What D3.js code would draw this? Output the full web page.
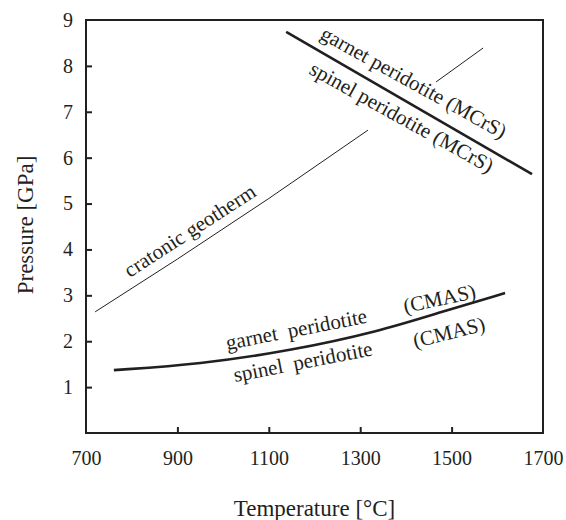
<!DOCTYPE html>
<html>
<head>
<meta charset="utf-8">
<script src="https://cdn.jsdelivr.net/npm/d3@7"></script>
<style>
  body { margin: 0; background: #fff; }
  text { font-family: "Liberation Serif", "Times New Roman", serif; fill: #231f20; }
</style>
</head>
<body>
<svg width="566" height="520"></svg>
<script>
// tick values
var tempTicks = [700, 900, 1100, 1300, 1500, 1700];
var pressureTicks = [1, 2, 3, 4, 5, 6, 7, 8, 9];

// cratonic geotherm, drawn in two pieces (gap for the label)
var geothermLower = [[720, 2.64], [900, 3.79], [1100, 5.11], [1317, 6.60]];
var geothermUpper = [[1466, 7.65], [1569, 8.39]];

// garnet / spinel transition, MCrS system
var mcrsBoundary = [[1138, 8.74], [1676, 5.64]];

// garnet / spinel transition, CMAS system
var cmasBoundary = [[761, 1.37], [949, 1.50], [1146, 1.79], [1343, 2.22], [1468, 2.61], [1617, 3.05]];

// annotation texts
var labelTexts = ["cratonic geotherm", "garnet peridotite (MCrS)", "spinel peridotite (MCrS)",
  "garnet\u00a0 peridotite", "(CMAS)", "spinel\u00a0 peridotite", "(CMAS)"];

var svg = d3.select("svg"),
  margin = {top: 20, right: 23, bottom: 87, left: 86},
  width = +svg.attr("width") - margin.left - margin.right,
  height = +svg.attr("height") - margin.top - margin.bottom;

var x = d3.scaleLinear().domain([700, 1700]).range([0, width]),
  y = d3.scaleLinear().domain([0, 9]).range([height, 0]);

var g = svg.append("g")
  .attr("transform", "translate(" + margin.left + "," + margin.top + ")");

// frame
g.append("rect")
  .attr("width", width).attr("height", height)
  .attr("fill", "none").attr("stroke", "#231f20").attr("stroke-width", 2);

// x axis (ticks inward)
var xa = g.append("g")
  .attr("transform", "translate(0," + height + ")")
  .call(d3.axisBottom(x).tickValues(tempTicks).tickSize(-6).tickPadding(13).tickFormat(d3.format("d")));
xa.select(".domain").remove();
xa.selectAll(".tick line").attr("stroke", "#231f20").attr("stroke-width", 2)
  .filter(function(d) { return d === 700 || d === 1700; }).remove();
xa.selectAll("text").attr("font-size", 20).attr("font-family", null).attr("fill", "#231f20").attr("dy", "0.95em");

// y axis (ticks inward)
var ya = g.append("g")
  .call(d3.axisLeft(y).tickValues(pressureTicks).tickSize(-6).tickPadding(13));
ya.select(".domain").remove();
ya.selectAll(".tick line").attr("stroke", "#231f20").attr("stroke-width", 2)
  .filter(function(d) { return d === 9; }).remove();
ya.selectAll("text").attr("font-size", 20).attr("font-family", null).attr("fill", "#231f20");
ya.selectAll(".tick text").attr("x", -13);

// axis titles
svg.append("text")
  .attr("x", margin.left + width / 2).attr("y", 516)
  .attr("text-anchor", "middle").attr("font-size", 23)
  .text("Temperature [\u00b0C]");
svg.append("text")
  .attr("transform", "translate(33,225) rotate(-90)")
  .attr("text-anchor", "middle").attr("font-size", 23)
  .text("Pressure [GPa]");

var line = d3.line()
  .x(function(d) { return x(d[0]); })
  .y(function(d) { return y(d[1]); });

g.append("path").attr("d", line(geothermLower))
  .attr("fill", "none").attr("stroke", "#231f20").attr("stroke-width", 1);
g.append("path").attr("d", line(geothermUpper))
  .attr("fill", "none").attr("stroke", "#231f20").attr("stroke-width", 1);
g.append("path").attr("d", line(mcrsBoundary))
  .attr("fill", "none").attr("stroke", "#231f20").attr("stroke-width", 2.6);
g.append("path").attr("d", line.curve(d3.curveBasis)(cmasBoundary))
  .attr("fill", "none").attr("stroke", "#231f20").attr("stroke-width", 2.6);

// label anchors (baseline start) in data units, with rotation
var labelPlace = [
  {t: 796, p: 3.38, a: -33},
  {t: 1210, p: 8.61, a: 29},
  {t: 1186, p: 7.84, a: 29},
  {t: 1009, p: 1.81, a: -11},
  {t: 1398, p: 2.61, a: -12},
  {t: 1026, p: 1.11, a: -11},
  {t: 1420, p: 1.85, a: -14}
];

g.selectAll(".lbl")
  .data(labelTexts)
  .enter().append("text")
  .attr("class", "lbl")
  .attr("font-size", 21)
  .attr("transform", function(d, i) {
    var pl = labelPlace[i];
    return "translate(" + x(pl.t) + "," + y(pl.p) + ") rotate(" + pl.a + ")";
  })
  .text(function(d) { return d; });
</script>
</body>
</html>
